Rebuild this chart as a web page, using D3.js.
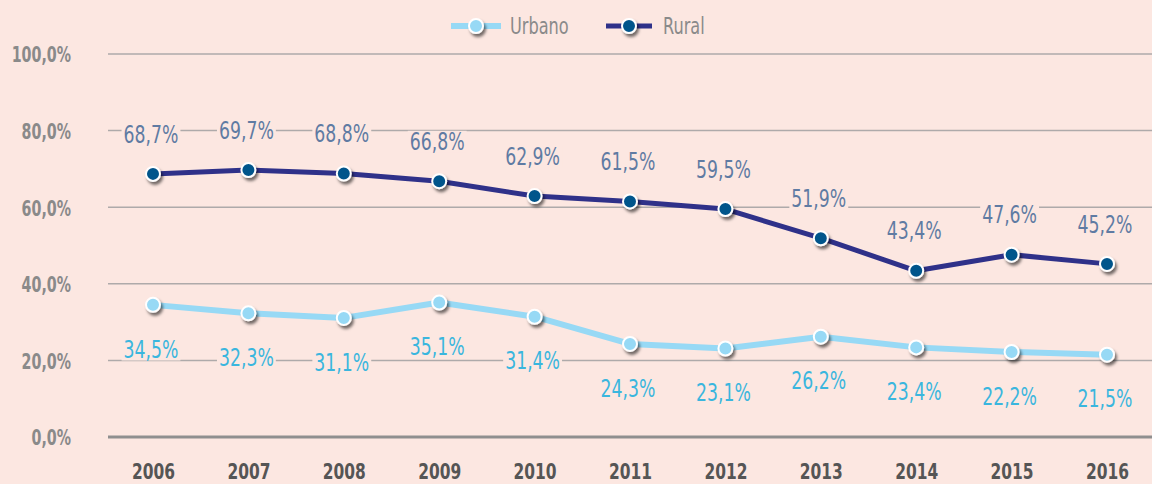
<!DOCTYPE html>
<html>
<head>
<meta charset="utf-8">
<script src="https://d3js.org/d3.v7.min.js"></script>
<style>
* { box-sizing:border-box; }
body { margin:0; background:#fce7e1; }
text { font-family:"DejaVu Sans Condensed", "Liberation Sans", sans-serif; }
</style>
</head>
<body>
<div id="chart"></div>
<script>
// data
var years = ["2006","2007","2008","2009","2010","2011","2012","2013","2014","2015","2016"];
var urbano = [34.5, 32.3, 31.1, 35.1, 31.4, 24.3, 23.1, 26.2, 23.4, 22.2, 21.5];
var rural = [68.7, 69.7, 68.8, 66.8, 62.9, 61.5, 59.5, 51.9, 43.4, 47.6, 45.2];
var yTicks = [0, 20, 40, 60, 80, 100];

var W = 1152, H = 484;
var bg = "#fce7e1";
var font = '"DejaVu Sans Condensed", "Liberation Sans", sans-serif';

// squeeze text horizontally, the original uses a condensed face
function condense(sel, k) {
  sel.each(function() {
    var w = this.getComputedTextLength();
    d3.select(this).attr("textLength", w * k).attr("lengthAdjust", "spacingAndGlyphs");
  });
}

var svg = d3.select("#chart").append("svg")
  .attr("width", W).attr("height", H);

svg.append("rect").attr("width", W).attr("height", H).attr("fill", bg);

// shadow for the markers
var defs = svg.append("defs");
var f = defs.append("filter").attr("id", "shadow")
  .attr("x", "-50%").attr("y", "-50%").attr("width", "220%").attr("height", "220%");
f.append("feDropShadow").attr("dx", 2).attr("dy", 3).attr("stdDeviation", 1.8)
  .attr("flood-color", "#000").attr("flood-opacity", 0.55);

var x = d3.scalePoint().domain(years).range([153, 1107]);
var y = d3.scaleLinear().domain([0, 100]).range([437, 54]);

var fmt = function(v) { return v.toFixed(1).replace(".", ",") + "%"; };

// grid lines
svg.append("g").selectAll("line")
  .data(yTicks)
  .enter().append("line")
    .attr("x1", 108).attr("x2", W)
    .attr("y1", function(d) { return y(d); })
    .attr("y2", function(d) { return y(d); })
    .attr("stroke", function(d) { return d == 0 ? "#8f8f8f" : "#aeaaaa"; })
    .attr("stroke-width", function(d) { return d == 0 ? 3 : 1.5; });

// y axis labels
var yAxis = svg.append("g")
  .attr("transform", "translate(71,0)")
  .call(d3.axisLeft(y).tickValues(yTicks).tickSize(0).tickPadding(0).tickFormat(function(d) { return fmt(d); }));
yAxis.select(".domain").remove();
yAxis.selectAll("text")
  .style("font-family", font)
  .style("font-size", "22px").style("font-weight", "bold")
  .attr("fill", "#8a8a8a").attr("dy", "0.36em")
  .call(condense, 0.72);

// x axis labels
var xAxis = svg.append("g")
  .attr("transform", "translate(0,463)")
  .call(d3.axisBottom(x).tickSize(0).tickPadding(0));
xAxis.select(".domain").remove();
xAxis.selectAll("text")
  .style("font-family", font)
  .style("font-size", "22px").style("font-weight", "bold")
  .attr("fill", "#555555")
  .call(condense, 0.78);

var series = [
  { name: "Urbano", values: urbano, line: "#97d9f5", dot: "#97d9f5", label: "#3ab6de", width: 6, off: 44 },
  { name: "Rural", values: rural, line: "#2f3189", dot: "#06558b", label: "#5f7ba3", width: 5, off: -40 }
];

var line = d3.line()
  .x(function(d, i) { return x(years[i]); })
  .y(function(d) { return y(d); });

// value labels (with background patch over the grid)
series.forEach(function(s) {
  var g = svg.append("g");
  s.values.forEach(function(v, i) {
    var t = g.append("text")
      .attr("x", x(years[i]) - 2)
      .attr("y", y(v) + s.off)
      .attr("dy", "0.36em")
      .attr("text-anchor", "middle")
      .style("font-size", "24px")
      .attr("fill", s.label)
      .text(fmt(v))
      .call(condense, 0.8);
    var b = t.node().getBBox();
    g.insert("rect", "text")
      .attr("x", b.x - 2).attr("y", b.y + 3)
      .attr("width", b.width + 4).attr("height", b.height - 6)
      .attr("fill", bg);
  });
});

// lines and markers
series.forEach(function(s) {
  svg.append("path")
    .datum(s.values)
    .attr("d", line)
    .attr("fill", "none")
    .attr("stroke", s.line)
    .attr("stroke-width", s.width)
    .attr("stroke-linejoin", "round");
  svg.append("g").selectAll("circle")
    .data(s.values)
    .enter().append("circle")
      .attr("cx", function(d, i) { return x(years[i]); })
      .attr("cy", function(d) { return y(d); })
      .attr("r", 7)
      .attr("fill", s.dot)
      .attr("stroke", "#fff")
      .attr("stroke-width", 2)
      .attr("filter", "url(#shadow)");
});

// legend
var legend = svg.append("g");
var lx = [451, 606];
series.forEach(function(s, i) {
  var g = legend.append("g").attr("transform", "translate(" + lx[i] + ",26)");
  g.append("line").attr("x1", 0).attr("x2", i == 0 ? 50 : 46)
    .attr("stroke", s.line).attr("stroke-width", s.width);
  g.append("circle").attr("cx", i == 0 ? 25 : 23).attr("r", 7)
    .attr("fill", s.dot).attr("stroke", "#fff").attr("stroke-width", 2)
    .attr("filter", "url(#shadow)");
  g.append("text").attr("x", i == 0 ? 59 : 57).attr("dy", "0.36em")
    .style("font-size", "23px").attr("fill", "#8a8a8a")
    .text(s.name)
    .call(condense, 0.78);
});
</script>
</body>
</html>
